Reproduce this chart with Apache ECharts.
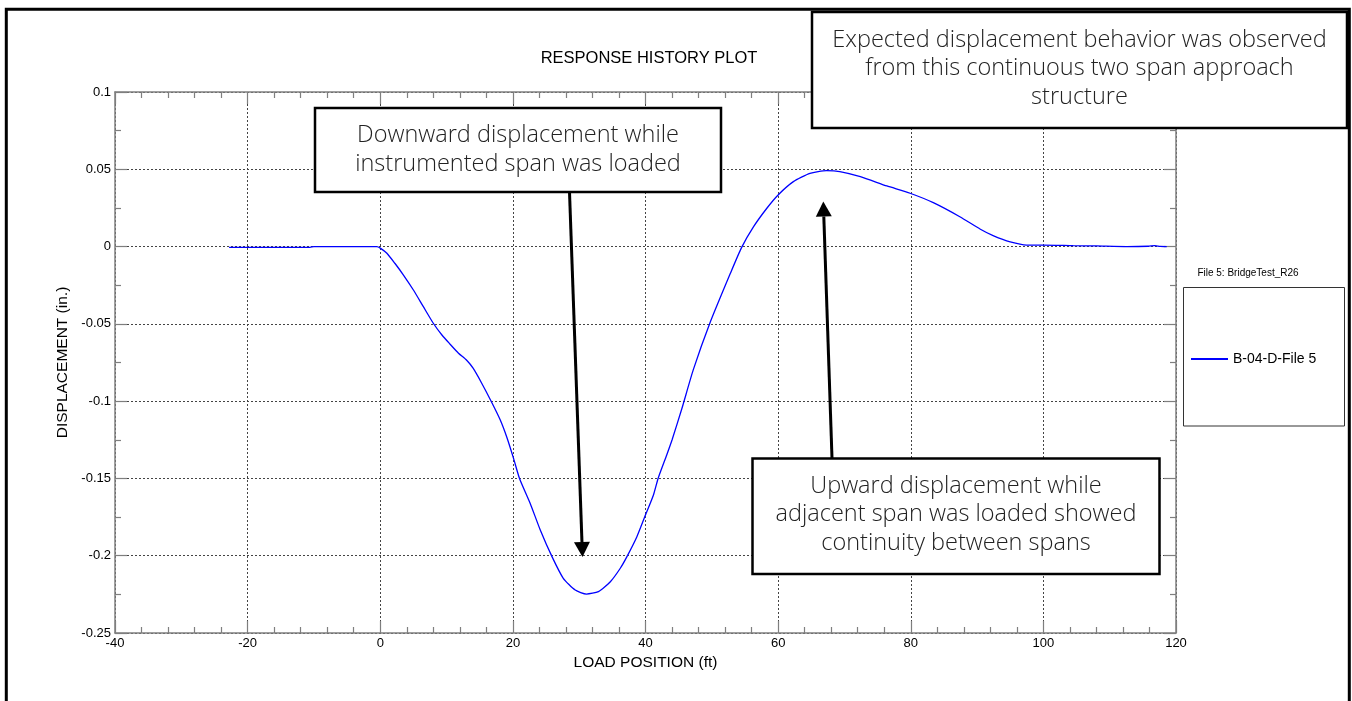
<!DOCTYPE html>
<html>
<head>
<meta charset="utf-8">
<script src="https://cdn.jsdelivr.net/npm/echarts@6/dist/echarts.min.js"></script>
<style>
html,body{margin:0;padding:0;background:#fff;}
#chart{width:1352px;height:701px;}
</style>
</head>
<body>
<div id="chart"></div>
<script>
// Load position (ft)
var loadPosition = [-22.8, -18, -14, -10.6, -10, -6, -3, -0.5, 0, 1.0, 2.2, 3.5, 5.0, 6.5, 8.0, 9.3, 10.5, 11.8, 13.0, 14.0, 15.3, 16.8, 18.1, 19.1, 20.1, 21.0, 22.6, 24.1, 25.9, 27.6, 29.4, 31.1, 32.9, 34.7, 36.2, 37.2, 38.7, 39.9, 41.2, 41.9, 43.2, 44.0, 45.5, 47.2, 49.7, 52.8, 54.5, 56.3, 58.3, 60, 62.3, 64.8, 67.3, 69.3, 72.4, 76.4, 79.9, 83.4, 87.4, 90.5, 92.5, 95, 97.5, 100, 104.5, 108, 112.6, 115.8, 116.8, 117.6, 118.6];
// Displacement (in.)
var displacement = [-0.0005, -0.0005, -0.0005, -0.0005, 0, 0, 0, 0, -0.001, -0.0043, -0.0108, -0.0184, -0.0281, -0.0389, -0.0496, -0.0572, -0.063, -0.069, -0.0734, -0.0787, -0.0884, -0.1007, -0.1122, -0.1235, -0.137, -0.150, -0.166, -0.183, -0.2006, -0.2146, -0.2222, -0.2248, -0.2232, -0.2168, -0.2081, -0.2006, -0.1877, -0.1747, -0.1607, -0.150, -0.1348, -0.1251, -0.1046, -0.0798, -0.0496, -0.0173, -0.0005, 0.0129, 0.0248, 0.0334, 0.042, 0.0474, 0.0491, 0.0485, 0.0452, 0.0392, 0.0345, 0.0284, 0.0193, 0.0112, 0.0069, 0.003, 0.001, 0.001, 0.0006, 0.0004, 0, 0.0002, 0.0006, 0.0001, 0];
var seriesName = 'B-04-D-File 5';
var legendTitle = 'File 5: BridgeTest_R26';
var chartTitle = 'RESPONSE HISTORY PLOT';
var xName = 'LOAD POSITION (ft)';
var yName = 'DISPLACEMENT (in.)';
var note1 = ['Downward displacement while', 'instrumented span was loaded'];
var note2 = ['Expected displacement behavior was observed', 'from this continuous two span approach', 'structure'];
var note3 = ['Upward displacement while', 'adjacent span was loaded showed', 'continuity between spans'];

var points = loadPosition.map(function (x, i) { return [x, displacement[i]]; });
var FONT = 'Liberation Sans, Arial, sans-serif';
var NOTEFONT = 'Open Sans, Lato, sans-serif';
var axisColor = '#7f7f7f';

function frameAxis(base) {
  return Object.assign({
    axisLine: { show: true, onZero: false, lineStyle: { color: axisColor, width: 1.5 } },
    axisTick: { show: true, inside: true, length: 12, lineStyle: { color: axisColor, width: 1.2 } },
    minorTick: { show: true, length: 6, lineStyle: { color: axisColor, width: 1.2 } },
    splitLine: { show: false },
    axisLabel: { show: false }
  }, base);
}

var xMain = frameAxis({
  type: 'value', position: 'bottom', min: -40, max: 120, interval: 20,
  minorTick: { show: true, splitNumber: 5, length: 6, lineStyle: { color: axisColor, width: 1.2 } },
  axisLabel: { show: true, color: '#000', fontFamily: FONT, fontSize: 13, margin: 4 },
  splitLine: { show: true, lineStyle: { color: '#444', type: [2, 2], width: 1 } },
  name: xName, nameLocation: 'middle', nameGap: 20,
  nameTextStyle: { color: '#000', fontFamily: FONT, fontSize: 15.5 }
});
var xTop = frameAxis({
  type: 'value', position: 'top', min: -40, max: 120, interval: 20,
  minorTick: { show: true, splitNumber: 5, length: 6, lineStyle: { color: axisColor, width: 1.2 } }
});
var yMain = frameAxis({
  type: 'value', position: 'left', min: -0.25, max: 0.1, interval: 0.05,
  minorTick: { show: true, splitNumber: 2, length: 6, lineStyle: { color: axisColor, width: 1.2 } },
  axisLabel: { show: true, color: '#000', fontFamily: FONT, fontSize: 13, margin: 4,
    formatter: function (v) { return String(Math.round(v * 1000) / 1000); } },
  splitLine: { show: true, lineStyle: { color: '#444', type: [2, 2], width: 1 } },
  name: yName, nameLocation: 'middle', nameGap: 39,
  nameTextStyle: { color: '#000', fontFamily: FONT, fontSize: 15.5 }
});
var yRight = frameAxis({
  type: 'value', position: 'right', min: -0.25, max: 0.1, interval: 0.05,
  minorTick: { show: true, splitNumber: 2, length: 6, lineStyle: { color: axisColor, width: 1.2 } }
});

function noteBox(x, y, w, h, lines, lh, firstY) {
  var els = [{
    type: 'rect', shape: { x: x, y: y, width: w, height: h },
    style: { fill: '#fff', stroke: '#000', lineWidth: 2.5 }, z: 100
  }];
  lines.forEach(function (t, i) {
    els.push({
      type: 'text', x: x + w / 2, y: firstY + i * lh, z: 101,
      style: { text: t, fill: '#222', font: '300 23.5px ' + NOTEFONT, textAlign: 'center', textVerticalAlign: 'middle' }
    });
  });
  return els;
}
function arrow(x1, y1, x2, y2, headLen, headW) {
  var dx = x2 - x1, dy = y2 - y1, L = Math.sqrt(dx * dx + dy * dy);
  var ux = dx / L, uy = dy / L;
  var bx = x2 - ux * headLen, by = y2 - uy * headLen;
  var px = -uy, py = ux;
  return [
    { type: 'line', z: 99, shape: { x1: x1, y1: y1, x2: bx, y2: by }, style: { stroke: '#000', lineWidth: 3 } },
    { type: 'polygon', z: 99, shape: { points: [[x2, y2], [bx + px * headW / 2, by + py * headW / 2], [bx - px * headW / 2, by - py * headW / 2]] }, style: { fill: '#000' } }
  ];
}

var graphics = [].concat(
  [{ type: 'rect', shape: { x: 6.3, y: 9.3, width: 1343, height: 720 }, style: { fill: 'none', stroke: '#000', lineWidth: 3 }, z: 50 }],
  [{ type: 'rect', shape: { x: 1183.5, y: 287.5, width: 161, height: 138.5 }, style: { fill: 'none', stroke: '#333', lineWidth: 1 }, z: 50 }],
  [{ type: 'text', x: 1248, y: 273, z: 50, style: { text: legendTitle, fill: '#000', font: '10px ' + FONT, textAlign: 'center', textVerticalAlign: 'middle' } }],
  arrow(569.5, 192, 582.5, 557, 15, 16),
  arrow(832, 458, 823.3, 201.5, 15, 16),
  noteBox(315, 108, 406, 84, note1, 29, 135),
  noteBox(812, 12, 535, 116, note2, 28.5, 40),
  noteBox(752.5, 458.5, 407, 115.5, note3, 28.5, 486)
);

var chart = echarts.init(document.getElementById('chart'), null, { renderer: 'canvas' });
chart.setOption({
  backgroundColor: '#fff',
  animation: false,
  title: { text: chartTitle, left: 644, top: 45, textAlign: 'center',
    textStyle: { color: '#000', fontFamily: FONT, fontSize: 16.5, fontWeight: 'normal' } },
  grid: { left: 115, top: 92, right: 176, bottom: 68, containLabel: false },
  xAxis: [xMain, xTop],
  yAxis: [yMain, yRight],
  legend: {
    left: 1186, top: 347, icon: 'rect', itemWidth: 37, itemHeight: 2, itemGap: 4,
    data: [seriesName],
    textStyle: { color: '#000', fontFamily: FONT, fontSize: 14 }
  },
  series: [{
    name: seriesName, type: 'line', xAxisIndex: 0, yAxisIndex: 0,
    data: points, showSymbol: false, symbol: 'none', smooth: 0.2,
    lineStyle: { color: '#0000ff', width: 1.3 }, itemStyle: { color: '#0000ff' }
  }],
  graphic: graphics
});
</script>
</body>
</html>
